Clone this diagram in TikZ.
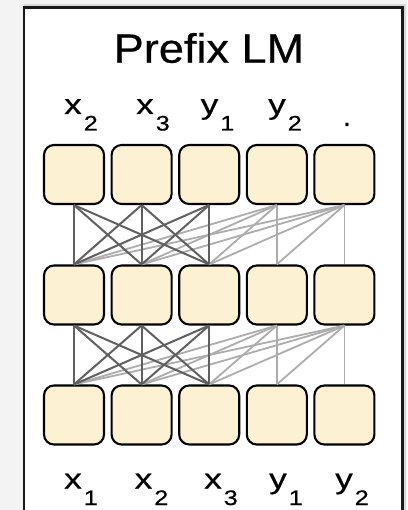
\documentclass[tikz,border=0pt]{standalone}
\usepackage{fontspec}
\setmainfont{Liberation Sans}
\newfontfamily\heavyfont[FakeBold=0.5]{Liberation Sans}
\usetikzlibrary{positioning}
\definecolor{cellfill}{HTML}{FDF1D3}
\definecolor{bggray}{HTML}{F3F3F3}
\definecolor{darkedge}{HTML}{606060}
\definecolor{lightedge}{HTML}{ADADAD}
\newcommand{\lbl}[2]{{\heavyfont\fontsize{28}{28}\selectfont\scalebox{1.25}[1]{#1}}\rlap{\kern2pt\raisebox{-16.5pt}{\heavyfont\fontsize{21}{21}\selectfont\scalebox{1.2}[1]{#2}}}}
\tikzset{
  cell/.style={draw=black, line width=2.1pt, fill=cellfill, rounded corners=10pt,
    minimum width=60pt, minimum height=59pt, inner sep=0pt},
  dk/.style={draw=darkedge, line width=2pt},
  lt/.style={draw=lightedge, line width=1.8pt},
  tok/.style={anchor=base, inner sep=0pt},
}
\begin{document}
\begin{tikzpicture}[x=1pt,y=-1pt]
\useasboundingbox (0,0) rectangle (407,510);
\fill[bggray] (0,0) rectangle (407,510);
\draw[black!15, line width=3pt] (24,6) -- (404.5,6) -- (404.5,515);
\fill[white] (24,7.5) rectangle (402.5,515);
\draw[black!90, line width=2.2pt] (24,515) -- (24,7.5) -- (402.5,7.5) -- (402.5,515);
\node[anchor=base, inner sep=0pt] (title) at (209,62.7)
  {\heavyfont\fontsize{41}{41}\selectfont\scalebox{1.1}[1]{Prefix LM}};
% cells
\foreach \i/\xx in {1/74,2/141.6,3/209.2,4/276.8,5/344.4}{
  \node[cell] (t\i) at (\xx,174.5) {};
  \node[cell] (m\i) at (\xx,295) {};
  \node[cell] (b\i) at (\xx,415) {};
}
% light (causal) connections
\foreach \up/\lo in {4/1,4/2,4/3,4/4,5/1,5/2,5/3,5/4,5/5}{
  \draw[lt] (m\lo.north) -- (t\up.south);
  \draw[lt] (b\lo.north) -- (m\up.south);
}
% dark (prefix, fully visible) connections
\foreach \up in {1,2,3}{
  \foreach \lo in {1,2,3}{
    \draw[dk] (m\lo.north) -- (t\up.south);
    \draw[dk] (b\lo.north) -- (m\up.south);
  }
}
% top labels
\node[tok] (o1) at (73,114) {\lbl{x}{2}};
\node[tok] (o2) at (145,114) {\lbl{x}{3}};
\node[tok] (o3) at (209.5,114) {\lbl{y}{1}};
\node[tok] (o4) at (277,114) {\lbl{y}{2}};
\node[tok] (o5) at (347,126) {\heavyfont\fontsize{28}{28}\selectfont .};
% bottom labels
\node[tok] (i1) at (73,488.5) {\lbl{x}{1}};
\node[tok] (i2) at (143.5,488.5) {\lbl{x}{2}};
\node[tok] (i3) at (213,488.5) {\lbl{x}{3}};
\node[tok] (i4) at (278,488.5) {\lbl{y}{1}};
\node[tok] (i5) at (344,488.5) {\lbl{y}{2}};
\end{tikzpicture}
\end{document}
